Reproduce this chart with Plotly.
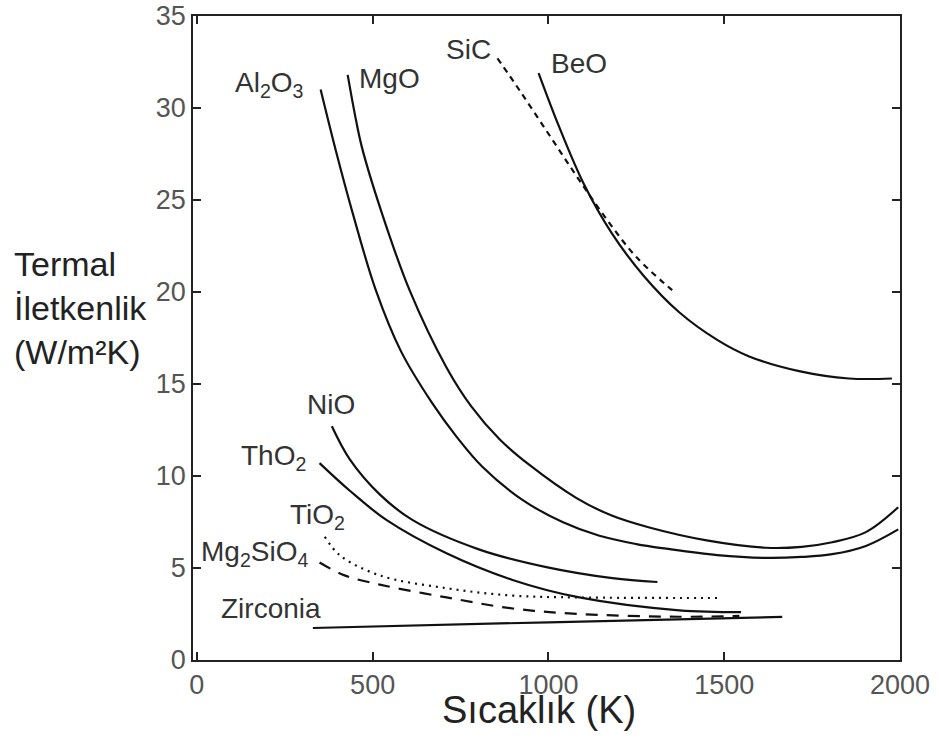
import plotly.graph_objects as go

# ---- data ----
al2o3_x = [352, 395, 443, 509, 580, 668, 740, 812, 926, 1040, 1145, 1250, 1335, 1480, 1619, 1720, 1807, 1903, 1995]
al2o3_y = [31.0, 27.7, 24.3, 20.1, 16.8, 14.0, 12.1, 10.5, 8.7, 7.5, 6.75, 6.3, 6.05, 5.7, 5.55, 5.6, 5.75, 6.2, 7.1]

mgo_x = [429, 450, 469, 526, 605, 710, 780, 861, 946, 1080, 1180, 1287, 1450, 1619, 1720, 1807, 1903, 1995]
mgo_y = [31.8, 29.6, 27.9, 24.3, 20.1, 15.9, 13.8, 12.0, 10.6, 8.8, 7.85, 7.2, 6.5, 6.1, 6.15, 6.4, 6.95, 8.3]

beo_x = [972, 1030, 1100, 1180, 1270, 1372, 1480, 1571, 1713, 1855, 1977]
beo_y = [31.9, 29.0, 25.9, 23.2, 20.9, 18.9, 17.4, 16.5, 15.7, 15.3, 15.3]

sic_x = [855, 920, 1000, 1080, 1160, 1250, 1352]
sic_y = [32.7, 30.9, 28.6, 26.3, 24.1, 21.9, 20.1]

nio_x = [384, 435, 520, 614, 804, 994, 1182, 1310]
nio_y = [12.7, 10.9, 9.0, 7.6, 6.0, 5.05, 4.45, 4.24]

tho2_x = [349, 435, 540, 710, 898, 1088, 1372, 1548]
tho2_y = [10.7, 9.2, 7.6, 5.8, 4.35, 3.4, 2.7, 2.6]

tio2_x = [364, 406, 520, 710, 898, 1088, 1494]
tio2_y = [6.7, 5.7, 4.6, 3.9, 3.5, 3.4, 3.37]

mg2sio4_x = [349, 420, 520, 710, 898, 1088, 1372, 1543]
mg2sio4_y = [5.3, 4.6, 4.1, 3.4, 2.8, 2.5, 2.35, 2.4]

zirconia_x = [330, 1000, 1665]
zirconia_y = [1.74, 2.05, 2.34]

labels = ["Al<sub>2</sub>O<sub>3</sub>", "MgO", "SiC", "BeO", "NiO",
          "ThO<sub>2</sub>", "TiO<sub>2</sub>", "Mg<sub>2</sub>SiO<sub>4</sub>", "Zirconia"]
label_x = [208, 549, 774, 1087, 382, 217, 342, 165, 211]
label_y = [31.3, 31.6, 33.2, 32.4, 13.9, 11.0, 7.8, 5.8, 2.8]

x_ticks = [0, 500, 1000, 1500, 2000]
y_ticks = [0, 5, 10, 15, 20, 25, 30, 35]

FONT = "Liberation Sans, Arial, sans-serif"
LINE = "#111111"

series = [
    (al2o3_x, al2o3_y, "solid"),
    (mgo_x, mgo_y, "solid"),
    (beo_x, beo_y, "solid"),
    (sic_x, sic_y, "6px,5px"),
    (nio_x, nio_y, "solid"),
    (tho2_x, tho2_y, "solid"),
    (tio2_x, tio2_y, "2px,5px"),
    (mg2sio4_x, mg2sio4_y, "12px,9px"),
    (zirconia_x, zirconia_y, "solid"),
]

fig = go.Figure()
for xs, ys, dash in series:
    fig.add_trace(go.Scatter(
        x=xs, y=ys, mode="lines",
        line=dict(color=LINE, width=2.2, dash=dash, shape="spline", smoothing=1.0),
        showlegend=False, hoverinfo="skip",
    ))

for t, lx, ly in zip(labels, label_x, label_y):
    fig.add_annotation(x=lx, y=ly, xref="x", yref="y", text=t, showarrow=False,
                       xanchor="center", yanchor="middle",
                       font=dict(family=FONT, size=28, color="#333333"))

fig.add_annotation(x=-0.256, y=0.547, xref="paper", yref="paper",
                   text="Termal<br>İletkenlik<br>(W/m²K)", showarrow=False,
                   xanchor="left", yanchor="middle", align="left",
                   font=dict(family=FONT, size=34, color="#222222"))
fig.add_annotation(x=0.49, y=-0.078, xref="paper", yref="paper",
                   text="Sıcaklık (K)", showarrow=False,
                   xanchor="center", yanchor="middle",
                   font=dict(family=FONT, size=38, color="#222222"))

axis_common = dict(showgrid=False, zeroline=False, showline=True, linecolor="#222222",
                   linewidth=1.5, ticks="inside", ticklen=8, tickwidth=1.5,
                   tickcolor="#222222", mirror="ticks", automargin=False,
                   ticklabeloverflow="allow",
                   tickfont=dict(family=FONT, size=27, color="#555555"))

fig.update_layout(
    width=939, height=742,
    margin=dict(l=193, r=39, t=16, b=82),
    paper_bgcolor="white", plot_bgcolor="white",
    xaxis=dict(range=[-11, 2000], tickvals=x_ticks, **axis_common),
    yaxis=dict(range=[0, 35], tickvals=y_ticks, **axis_common),
)

fig.write_html("out.html", config={"displayModeBar": False},
               post_script="document.body.style.margin='0';document.body.style.overflow='hidden';")
